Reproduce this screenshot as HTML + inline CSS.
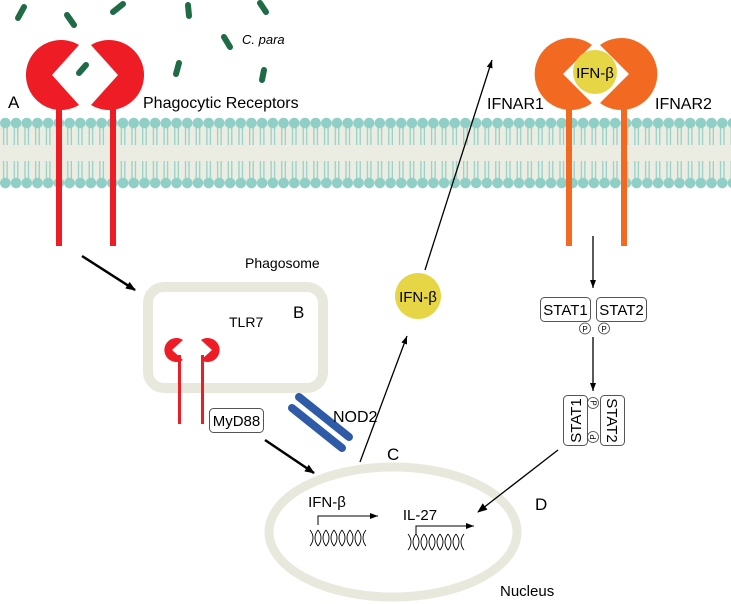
<!DOCTYPE html>
<html><head><meta charset="utf-8"><style>
html,body{margin:0;padding:0;background:#fff;}
svg{display:block;font-family:"Liberation Sans",sans-serif;}
</style></head><body>
<svg width="731" height="604" viewBox="0 0 731 604" xmlns="http://www.w3.org/2000/svg">
<defs>
<pattern id="lipT" x="0" y="110" width="10.7" height="80" patternUnits="userSpaceOnUse">
  <line x1="3.6" y1="13" x2="3.6" y2="35" stroke="#8fcfc6" stroke-width="1.2"/>
  <line x1="7.1" y1="13" x2="7.1" y2="35" stroke="#8fcfc6" stroke-width="1.2"/>
  <line x1="3.6" y1="51" x2="3.6" y2="73" stroke="#8fcfc6" stroke-width="1.2"/>
  <line x1="7.1" y1="51" x2="7.1" y2="73" stroke="#8fcfc6" stroke-width="1.2"/>
  <circle cx="5.35" cy="13" r="5.3" fill="#8fcfc6"/>
  <circle cx="5.35" cy="73" r="5.3" fill="#8fcfc6"/>
</pattern>
<marker id="ah" markerWidth="10" markerHeight="8" refX="9" refY="4" orient="auto" markerUnits="userSpaceOnUse">
  <path d="M0,0 L10,4 L0,8 Z" fill="#000"/>
</marker>
<marker id="ahs" markerWidth="8" markerHeight="6" refX="8" refY="3" orient="auto" markerUnits="userSpaceOnUse">
  <path d="M0,0 L8,3 L0,6 Z" fill="#000"/>
</marker>
</defs>

<rect x="0" y="124" width="731" height="58" fill="#ecede2"/>
<rect x="0" y="110" width="731" height="80" fill="url(#lipT)"/>

<g stroke="#1f6b45" stroke-width="6" stroke-linecap="round">
<line x1="18" y1="18" x2="24" y2="7"/>
<line x1="67" y1="15" x2="74" y2="25"/>
<line x1="113" y1="12" x2="123" y2="4"/>
<line x1="188" y1="5" x2="189" y2="16"/>
<line x1="260" y1="3" x2="266" y2="12"/>
<line x1="224" y1="37" x2="230" y2="47"/>
<line x1="176" y1="74" x2="179" y2="63"/>
<line x1="262" y1="80" x2="264" y2="70"/>
</g>
<text x="242" y="44" font-size="13" font-style="italic">C. para</text>

<g fill="#ee1c24">
<path d="M52,75 L79,45 A35,35 0 1 0 79,105 Z"/>
<path d="M118,75 L91,45 A35,35 0 1 1 91,105 Z"/>
<rect x="56" y="105" width="6" height="141"/>
<rect x="110" y="105" width="6" height="141"/>
</g>
<line x1="79" y1="73" x2="86" y2="65" stroke="#1f6b45" stroke-width="6" stroke-linecap="round"/>
<text x="8" y="108" font-size="17">A</text>
<text x="143" y="108" font-size="16">Phagocytic Receptors</text>

<g fill="#f26a21">
<path d="M563,74 L592,45 A36,36 0 1 0 592,103 Z"/>
<path d="M629,74 L600,45 A36,36 0 1 1 600,103 Z"/>
<rect x="566" y="100" width="6" height="146"/>
<rect x="621" y="100" width="6" height="146"/>
</g>
<circle cx="595" cy="72" r="22" fill="#e6d646"/>
<text x="595" y="78" font-size="15" text-anchor="middle">IFN-β</text>
<text x="487" y="109" font-size="16">IFNAR1</text>
<text x="655" y="109" font-size="16">IFNAR2</text>

<line x1="82" y1="256" x2="135" y2="290" stroke="#000" stroke-width="2.5" marker-end="url(#ah)"/>
<text x="245" y="268" font-size="14">Phagosome</text>

<rect x="148" y="287" width="175" height="101" rx="16" fill="none" stroke="#e8e9dc" stroke-width="10"/>
<text x="229" y="327" font-size="14">TLR7</text>
<text x="293" y="318" font-size="17">B</text>
<g fill="#ee1c24">
<path d="M172,350 L183,340 A12,12 0 1 0 183,360 Z"/>
<path d="M212,350 L201,340 A12,12 0 1 1 201,360 Z"/>
<rect x="178" y="355" width="3" height="69"/>
<rect x="201" y="355" width="3" height="69"/>
</g>
<rect x="209.5" y="408.5" width="54" height="24" rx="4" fill="#fff" stroke="#555" stroke-width="1"/>
<text x="236.5" y="426" font-size="15" text-anchor="middle">MyD88</text>

<g stroke="#2f5aa8" stroke-width="8" stroke-linecap="round">
<line x1="299" y1="397" x2="349" y2="437"/>
<line x1="292" y1="408" x2="342" y2="448"/>
</g>
<text x="333" y="422" font-size="16">NOD2</text>
<text x="387" y="460" font-size="17">C</text>

<line x1="265" y1="440" x2="314" y2="473" stroke="#000" stroke-width="2.5" marker-end="url(#ah)"/>
<line x1="360" y1="462" x2="407" y2="336" stroke="#000" stroke-width="1.3" marker-end="url(#ahs)"/>
<circle cx="418" cy="296" r="23" fill="#e6d646"/>
<text x="418" y="302" font-size="15" text-anchor="middle">IFN-β</text>
<line x1="425" y1="270" x2="492" y2="60" stroke="#000" stroke-width="1.3" marker-end="url(#ahs)"/>

<ellipse cx="393" cy="532" rx="124" ry="65" fill="none" stroke="#e8e9dc" stroke-width="9"/>
<text x="327" y="507" font-size="15" text-anchor="middle">IFN-β</text>
<path d="M318,525 L318,516 L378,516" fill="none" stroke="#000" stroke-width="1" marker-end="url(#ahs)"/>
<g fill="none" stroke="#000" stroke-width="0.9">
<path id="hx1" d="M310,530 C314,535 314,541 310,546 M318,530 C314,535 314,541 318,546 M318,530 C322,535 322,541 318,546 M326,530 C322,535 322,541 326,546 M326,530 C330,535 330,541 326,546 M334,530 C330,535 330,541 334,546 M334,530 C338,535 338,541 334,546 M342,530 C338,535 338,541 342,546 M342,530 C346,535 346,541 342,546 M350,530 C346,535 346,541 350,546 M350,530 C354,535 354,541 350,546 M358,530 C354,535 354,541 358,546 M358,530 C362,535 362,541 358,546 M366,530 C362,535 362,541 366,546"/>
<use href="#hx1" x="98" y="4"/>
</g>
<text x="420" y="520" font-size="15" text-anchor="middle">IL-27</text>
<path d="M416,534 L416,526 L474,526" fill="none" stroke="#000" stroke-width="1" marker-end="url(#ahs)"/>
<text x="500" y="596" font-size="15">Nucleus</text>

<line x1="593" y1="236" x2="593" y2="288" stroke="#000" stroke-width="1.3" marker-end="url(#ahs)"/>
<rect x="540.5" y="297.5" width="50" height="24" rx="4" fill="#fff" stroke="#555"/>
<text x="565.5" y="315" font-size="15" text-anchor="middle">STAT1</text>
<rect x="596.5" y="297.5" width="50" height="24" rx="4" fill="#fff" stroke="#555"/>
<text x="621.5" y="315" font-size="15" text-anchor="middle">STAT2</text>
<circle cx="585" cy="328.5" r="5.5" fill="#fff" stroke="#444" stroke-width="0.8"/>
<text x="585" y="332" font-size="8" text-anchor="middle">P</text>
<circle cx="604" cy="328.5" r="5.5" fill="#fff" stroke="#444" stroke-width="0.8"/>
<text x="604" y="332" font-size="8" text-anchor="middle">P</text>
<line x1="593" y1="337" x2="593" y2="391" stroke="#000" stroke-width="1.3" marker-end="url(#ahs)"/>
<rect x="563.5" y="395.5" width="24" height="50" rx="4" fill="#fff" stroke="#555"/>
<text x="0" y="0" font-size="15" text-anchor="middle" transform="translate(581,420.5) rotate(-90)">STAT1</text>
<rect x="600.5" y="395.5" width="24" height="50" rx="4" fill="#fff" stroke="#555"/>
<text x="0" y="0" font-size="15" text-anchor="middle" transform="translate(607,420.5) rotate(90)">STAT2</text>
<circle cx="593" cy="403" r="5.5" fill="#fff" stroke="#444" stroke-width="0.8"/>
<text font-size="8" text-anchor="middle" transform="translate(590.5,403) rotate(90)">P</text>
<circle cx="593" cy="437" r="5.5" fill="#fff" stroke="#444" stroke-width="0.8"/>
<text font-size="8" text-anchor="middle" transform="translate(596,437) rotate(-90)">P</text>
<line x1="558" y1="450" x2="478" y2="512" stroke="#000" stroke-width="1.3" marker-end="url(#ah)"/>
<text x="535" y="510" font-size="17">D</text>
</svg>
</body></html>
